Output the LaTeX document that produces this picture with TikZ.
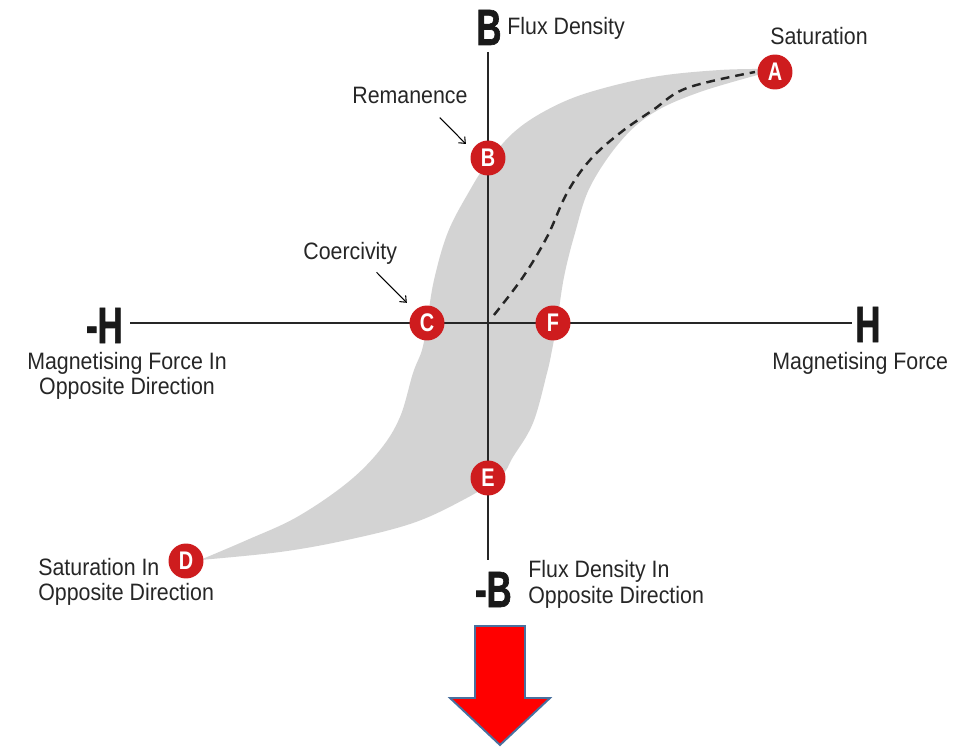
\documentclass[tikz,border=0pt]{standalone}
\usepackage{fontspec}
\usepackage{xcolor}
\usepackage{tikz}
\usetikzlibrary{positioning,arrows.meta}

\newfontfamily\condfont{Liberation Sans}[FakeStretch=0.9]
\newfontfamily\heavyfont{Liberation Sans}[FakeStretch=0.68, FakeBold=1.2]
\newfontfamily\markfont{Liberation Sans}[FakeStretch=0.78]

\definecolor{loopred}{RGB}{206,28,30}
\definecolor{bandgray}{RGB}{211,211,211}
\definecolor{arrowedge}{RGB}{72,112,158}

\begin{document}
\begin{tikzpicture}[x=0.02cm, y=-0.02cm,
    band/.style    ={fill=bandgray},
    axis/.style    ={draw=black!85, line width=1.7pt},
    virgin/.style  ={draw=black!85, line width=1.4pt, dash pattern=on 5pt off 3.4pt},
    pt/.style      ={circle, fill=loopred, text=white, minimum size=0.7cm, inner sep=0pt,
                     font=\markfont\bfseries\fontsize{14.5}{14.5}\selectfont},
    axlbl/.style   ={inner sep=0pt, text=black!90, font=\heavyfont\bfseries\fontsize{29}{29}\selectfont},
    lbl/.style     ={inner sep=0pt, text=black!85, font=\condfont\fontsize{13.5}{14.7}\selectfont},
    callout/.style ={draw=black, line width=0.6pt, -{Straight Barb[length=3pt,width=5pt]}},
    bigarrow/.style={fill=red, draw=arrowedge, line width=1.1pt, line join=miter}
  ]
    \useasboundingbox (0,0) rectangle (965,750);

    % --- hysteresis band ---
    \fill[band] plot[smooth, tension=0.6] coordinates {(770,69) (720,70) (653,77) (587,93)
        (545,111) (513,133) (488,162) (470,190) (448,232) (434,280) (427,323) (422,350)
        (413,373) (400,417) (380,450) (347,483) (297,517) (247,540) (200,560)}
      -- plot[smooth, tension=0.6] coordinates {(200,560) (280,552) (347,540) (413,523)
        (463,500) (500,477) (513,457) (533,423) (547,373) (552,350) (557,323) (564,277)
        (575,233) (590,187) (620,142) (653,113) (700,92) (765,73)}
      -- cycle;

    % --- axes ---
    \coordinate (ytop)   at (488,52);
    \coordinate (ybot)   at (488,560);
    \coordinate (xleft)  at (130,323);
    \coordinate (xright) at (852,323);
    \draw[axis] (ytop) -- (ybot);
    \draw[axis] (xleft) -- (xright);

    % --- initial magnetisation curve ---
    \draw[virgin] plot[smooth, tension=0.6] coordinates {(494,315) (523,277) (547,237)
        (567,193) (590,160) (620,133) (653,110) (687,88) (755,72)};

    % --- loop points ---
    \node[pt] (ptA) at (775,72)  {A};
    \node[pt] (ptB) at (488,158) {B};
    \node[pt] (ptC) at (427,323) {C};
    \node[pt] (ptD) at (186,561) {D};
    \node[pt] (ptE) at (488,478) {E};
    \node[pt] (ptF) at (553,323) {F};

    % --- axis labels ---
    \node[axlbl, anchor=base]      (lblB)  at (489,45)  {B};
    \node[axlbl, anchor=base east] (lblmH) at (123,343) {-H};
    \node[axlbl, anchor=base west] (lblH)  at (855,342) {H};
    \node[axlbl, anchor=base east] (lblmB) at (512,607) {-B};

    \node[lbl, anchor=base west] (lblflux)  at (507,35)  {Flux Density};
    \node[lbl, anchor=base west] (lblsat)   at (770,45)  {Saturation};
    \node[lbl, anchor=base west] (lblforce) at (772,370) {Magnetising Force};
    % multi-line labels sit on their last baseline
    \node[lbl, align=center, anchor=base] (lblmforce) at (127,395)
      {Magnetising Force In\\Opposite Direction};
    \node[lbl, align=left, anchor=base west] (lblmsat) at (38,601)
      {Saturation In\\Opposite Direction};
    \node[lbl, align=left, anchor=base west] (lblmflux) at (528,603)
      {Flux Density In\\Opposite Direction};

    % --- callouts ---
    \node[lbl, anchor=base west] (remlbl) at (352,104) {Remanence};
    \node[lbl, anchor=base west] (coelbl) at (303,260) {Coercivity};
    \draw[callout] ([xshift=17pt,yshift=-7.4pt]remlbl.south) -- ([xshift=-5.4pt,yshift=0.8pt]ptB.north west);
    \draw[callout] ([xshift=15pt,yshift=-4pt]coelbl.south) -- ([xshift=-4.3pt,yshift=4.3pt]ptC.north west);

    % --- down arrow ---
    \draw[bigarrow] (475,626) -- (525,626) -- (525,698) -- (550,698) -- (500,745)
      -- (450,698) -- (475,698) -- cycle;
  \end{tikzpicture}
\end{document}
